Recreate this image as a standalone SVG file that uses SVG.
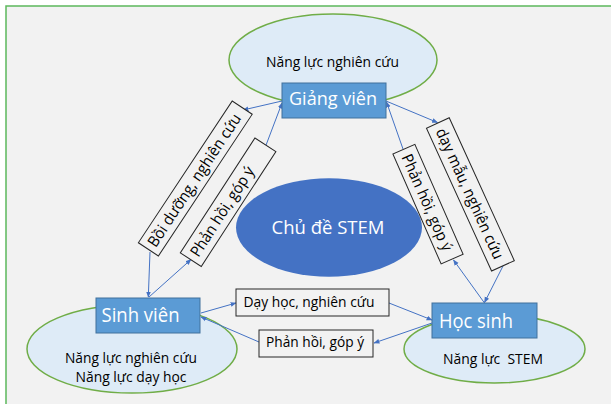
<svg xmlns="http://www.w3.org/2000/svg" width="611" height="404" viewBox="0 0 611 404">
<defs>
<marker id="ah" viewBox="0 0 10 10" refX="9" refY="5" markerWidth="6" markerHeight="6" orient="auto" markerUnits="userSpaceOnUse">
<path d="M0,1 L10,5 L0,9 z" fill="#4472c4"/>
</marker>
<style>
.bg{fill:#f2f2f2;stroke:#5cb85c;stroke-width:1.5}
.ell{fill:#deebf7;stroke:#70ad47;stroke-width:1.5}
.node{fill:#5b9bd5;stroke:#41719c;stroke-width:1}
.lab{fill:#f2f2f2;stroke:#262626;stroke-width:1}
.con{stroke:#4472c4;stroke-width:1;fill:none;marker-end:url(#ah)}
.t{font-family:"Open Sans","Liberation Sans",Arial,sans-serif;fill:#000;white-space:pre}
.w{font-family:"Open Sans","Liberation Sans",Arial,sans-serif;fill:#fff}
</style>
</defs>
<rect x="0" y="0" width="611" height="404" fill="#ffffff"/>
<rect class="bg" x="6" y="6" width="640" height="440"/>

<g id="ellipse-giangvien">
<ellipse class="ell" cx="333" cy="60" rx="104" ry="46"/>
<text class="t" x="332.5" y="66.5" font-size="14.5" text-anchor="middle" textLength="133" lengthAdjust="spacingAndGlyphs">Năng lực nghiên cứu</text>
</g>
<g id="ellipse-sinhvien">
<ellipse class="ell" cx="132" cy="349" rx="105" ry="44"/>
<text class="t" x="131" y="362.5" font-size="14.5" text-anchor="middle" textLength="132" lengthAdjust="spacingAndGlyphs">Năng lực nghiên cứu</text>
<text class="t" x="131" y="381.5" font-size="14.5" text-anchor="middle" textLength="111" lengthAdjust="spacingAndGlyphs">Năng lực dạy học</text>
</g>
<g id="ellipse-hocsinh">
<ellipse class="ell" cx="494.5" cy="349" rx="90.5" ry="34"/>
<text class="t" x="443" y="364" font-size="14.5" textLength="100" lengthAdjust="spacingAndGlyphs" xml:space="preserve">Năng lực  STEM</text>
</g>

<g id="stem">
<ellipse cx="329" cy="227.5" rx="93" ry="49.2" fill="#4472c4"/>
<text class="w" x="328" y="234" font-size="19" text-anchor="middle" textLength="113" lengthAdjust="spacingAndGlyphs">Chủ đề STEM</text>
</g>

<g id="connectors">
<line class="con" x1="282" y1="101" x2="243" y2="110"/>
<line class="con" x1="150" y1="252" x2="148.3" y2="297"/>
<line class="con" x1="149" y1="297" x2="191" y2="259.5"/>
<line class="con" x1="265.7" y1="146" x2="282" y2="103"/>
<line class="con" x1="386" y1="101" x2="437.5" y2="122.5"/>
<line class="con" x1="503" y1="266" x2="484.5" y2="302.5"/>
<line class="con" x1="484.5" y1="303" x2="453.5" y2="260"/>
<line class="con" x1="403" y1="149" x2="386.5" y2="102"/>
<line class="con" x1="201" y1="313" x2="236" y2="303"/>
<line class="con" x1="389" y1="303" x2="432" y2="320"/>
<line class="con" x1="432" y1="323" x2="374" y2="343"/>
<line class="con" x1="259" y1="342" x2="201" y2="317"/>
</g>

<g id="giangvien">
<rect class="node" x="282" y="83" width="104" height="35"/>
<text class="w" x="333" y="105" font-size="19" text-anchor="middle" textLength="88" lengthAdjust="spacingAndGlyphs">Giảng viên</text>
</g>
<g id="sinhvien">
<rect class="node" x="96" y="298" width="104" height="35"/>
<text class="w" x="101.5" y="321.5" font-size="19.5" textLength="78" lengthAdjust="spacingAndGlyphs">Sinh viên</text>
</g>
<g id="hocsinh">
<rect class="node" x="432" y="303" width="105" height="35"/>
<text class="w" x="439" y="328" font-size="19.5" textLength="74" lengthAdjust="spacingAndGlyphs">Học sinh</text>
</g>

<g id="label-boiduong" transform="translate(195.3,178.5) rotate(-56.5)">
<rect class="lab" x="-85" y="-12" width="170" height="24"/>
<text class="t" x="-80" y="5.5" font-size="15.5" textLength="156" lengthAdjust="spacingAndGlyphs">Bồi dưỡng, nghiên cứu</text>
</g>
<g id="label-phanhoi-left" transform="translate(228.1,202.2) rotate(-57)">
<rect class="lab" x="-68.5" y="-12.5" width="137" height="25"/>
<text class="t" x="-63" y="5.5" font-size="15.5" textLength="104" lengthAdjust="spacingAndGlyphs">Phản hồi, góp ý</text>
</g>
<g id="label-daymau" transform="translate(470.4,194.4) rotate(65.5)">
<rect class="lab" x="-78.5" y="-12.5" width="157" height="25"/>
<text class="t" x="-72" y="5.5" font-size="15.5" textLength="142" lengthAdjust="spacingAndGlyphs">dạy mẫu, nghiên cứu</text>
</g>
<g id="label-phanhoi-right" transform="translate(428,204.2) rotate(66.3)">
<rect class="lab" x="-60" y="-12" width="120" height="24"/>
<text class="t" x="-54" y="5.5" font-size="15.5" textLength="104" lengthAdjust="spacingAndGlyphs">Phản hồi, góp ý</text>
</g>
<g id="label-dayhoc">
<rect class="lab" x="236" y="289" width="153" height="27"/>
<text class="t" x="243.5" y="306.5" font-size="14.5" textLength="131" lengthAdjust="spacingAndGlyphs">Dạy học, nghiên cứu</text>
</g>
<g id="label-phanhoi-bottom">
<rect class="lab" x="259" y="330" width="114" height="27"/>
<text class="t" x="266" y="346.5" font-size="14.5" textLength="98" lengthAdjust="spacingAndGlyphs">Phản hồi, góp ý</text>
</g>
</svg>
